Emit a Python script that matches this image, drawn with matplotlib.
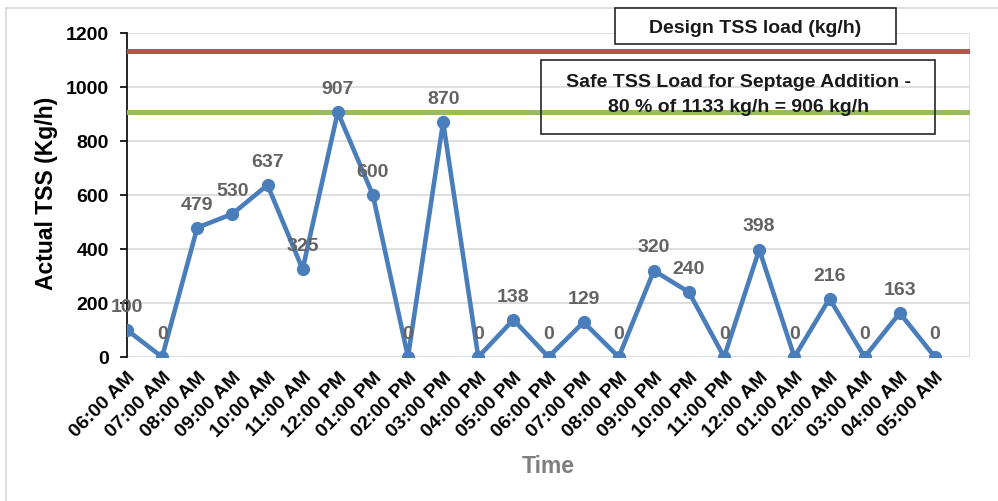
import matplotlib.pyplot as plt
from matplotlib.patches import Rectangle

plt.rcParams["font.family"] = ["Liberation Sans", "DejaVu Sans"]
plt.rcParams["font.weight"] = "bold"

times = ["06:00 AM", "07:00 AM", "08:00 AM", "09:00 AM", "10:00 AM", "11:00 AM",
         "12:00 PM", "01:00 PM", "02:00 PM", "03:00 PM", "04:00 PM", "05:00 PM",
         "06:00 PM", "07:00 PM", "08:00 PM", "09:00 PM", "10:00 PM", "11:00 PM",
         "12:00 AM", "01:00 AM", "02:00 AM", "03:00 AM", "04:00 AM", "05:00 AM"]
tss = [100, 0, 479, 530, 637, 325, 907, 600, 0, 870, 0, 138,
       0, 129, 0, 320, 240, 0, 398, 0, 216, 0, 163, 0]
design_load = 1133
safe_load = 906

fig = plt.figure(figsize=(9.98, 5.02), dpi=100)
W, H = 998, 502
ax = fig.add_axes([127 / W, 1 - 358 / H, (970 - 127) / W, (358 - 34) / H])

# chart frame
fig.patches.append(Rectangle((6 / W, -0.1), 1.2, 1 - 9 / H + 0.1, transform=fig.transFigure,
                             fill=False, edgecolor="#D9D9D9", linewidth=1.2))

x = list(range(len(tss)))
ax.axhline(design_load, color="#C0504D", linewidth=3.6, zorder=3)
ax.axhline(safe_load, color="#9BBB59", linewidth=3.6, zorder=3)
ax.plot(x, tss, color="#4A7EBB", linewidth=3.3, marker="o", markersize=8.5, zorder=4)

for xi, v in zip(x, tss):
    ax.annotate(str(v), (xi, v), textcoords="offset points", xytext=(0, 17),
                ha="center", va="center", fontsize=14, color="#636363",
                fontweight="bold", zorder=5)

ax.set_xlim(0, 24)
ax.set_ylim(0, 1200)
ax.set_yticks(range(0, 1201, 200))
ax.set_xticks(x)
ax.set_xticklabels(times, rotation=45, ha="right", rotation_mode="anchor",
                   fontsize=14, fontweight="bold")
ax.tick_params(axis="y", labelsize=14, direction="out", length=5, width=1.2, pad=8)
ax.tick_params(axis="x", length=0, pad=8)
ax.set_xticks(range(25), minor=True)
ax.tick_params(axis="x", which="minor", length=0)
ax.grid(True, which="minor", axis="x", color="#D9D9D9", linewidth=1.2)
ax.grid(True, which="major", axis="y", color="#D9D9D9", linewidth=1.2)
ax.set_axisbelow(True)

for side in ["top", "right", "bottom"]:
    ax.spines[side].set_visible(False)
ax.spines["left"].set_color("black")
ax.spines["left"].set_linewidth(1.2)

fig.text(47 / W, 1 - 193 / H, "Actual TSS (Kg/h)", ha="center", va="center",
         rotation=90, fontsize=16.5, fontweight="bold")
fig.text(548 / W, 1 - 467 / H, "Time", ha="center", va="center",
         fontsize=16.5, fontweight="bold", color="#7F7F7F")

# text boxes
fig.patches.append(Rectangle((615 / W, 1 - 45 / H), (896 - 615) / W, 36 / H,
                             transform=fig.transFigure, fill=True, facecolor="white",
                             edgecolor="#262626", linewidth=1.2, zorder=6))
fig.text(755 / W, 1 - 29 / H, "Design TSS load (kg/h)", ha="center", va="center",
         fontsize=14, fontweight="bold", color="#1a1a1a", zorder=7)
fig.patches.append(Rectangle((541 / W, 1 - 135 / H), (935 - 541) / W, 74 / H,
                             transform=fig.transFigure, fill=False,
                             edgecolor="#262626", linewidth=1.2, zorder=6))
fig.text(739 / W, 1 - 95 / H, "Safe TSS Load for Septage Addition -\n80 % of 1133 kg/h = 906 kg/h",
         ha="center", va="center", fontsize=14, fontweight="bold", color="#1a1a1a",
         linespacing=1.58, zorder=7)

fig.savefig("out.png", dpi=100)
